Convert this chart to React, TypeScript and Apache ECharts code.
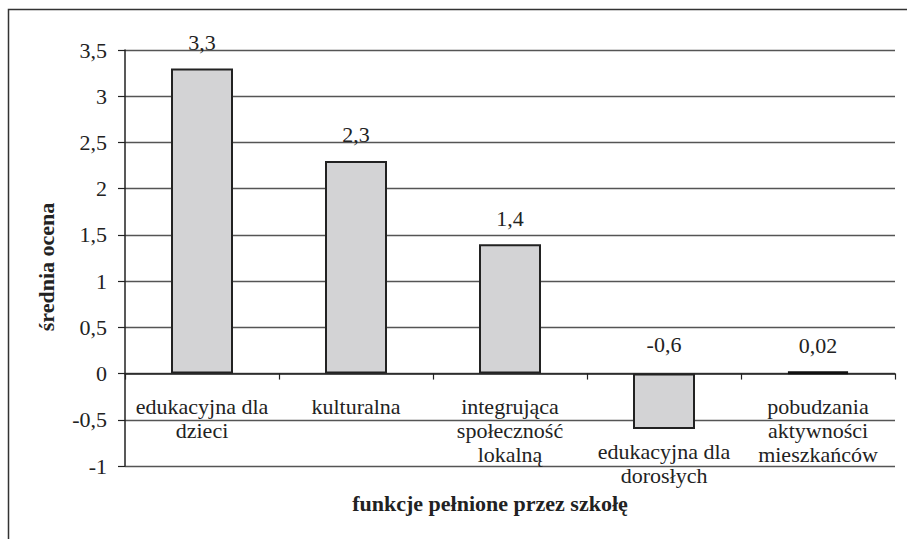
import React, { useEffect, useRef } from "react";
import * as echarts from "echarts";

const categories = [
  "edukacyjna dla\ndzieci",
  "kulturalna",
  "integrująca\nspołeczność\nlokalną",
  "edukacyjna dla\ndorosłych",
  "pobudzania\naktywności\nmieszkańców",
];
const values = [3.3, 2.3, 1.4, -0.6, 0.02];
const valueLabels = ["3,3", "2,3", "1,4", "-0,6", "0,02"];
const yAxisName = "średnia ocena";
const xAxisName = "funkcje pełnione przez szkołę";

const FONT = "'Liberation Serif', 'Times New Roman', serif";
const INK = "#222";

export default function App() {
  const ref = useRef<HTMLDivElement>(null);
  useEffect(() => {
    if (!ref.current) return;
    const chart = echarts.init(ref.current, null, { renderer: "svg" });
    chart.setOption({
      animation: false,
      backgroundColor: "#fff",
      textStyle: { fontFamily: FONT },
      grid: {
        left: 125,
        right: 12,
        top: 50,
        bottom: 73,
        containLabel: false,
        outerBoundsMode: "none",
      },
      graphic: [
        {
          type: "rect",
          shape: { x: 8.5, y: 9.5, width: 1000, height: 1000 },
          style: { fill: "none", stroke: "#333", lineWidth: 1.5 },
          silent: true,
        },
      ],
      xAxis: {
        type: "category",
        data: categories.map((c, i) =>
          i === 3 ? { value: c, textStyle: { padding: [45, 0, 0, 0] } } : c
        ),
        axisLine: { onZero: true, lineStyle: { color: INK, width: 1.5 } },
        axisTick: { show: true, length: 6, interval: 0, lineStyle: { color: INK, width: 1.2 } },
        axisLabel: {
          interval: 0,
          margin: -72,
          fontFamily: FONT,
          fontSize: 22,
          lineHeight: 24,
          color: INK,
        },
        name: xAxisName,
        nameLocation: "middle",
        nameGap: 26,
        nameTextStyle: {
          fontFamily: FONT,
          fontSize: 22,
          fontWeight: "bold",
          color: INK,
          padding: [0, 40, 0, 0],
        },
      },
      yAxis: {
        type: "value",
        min: -1,
        max: 3.5,
        interval: 0.5,
        axisLine: { show: true, lineStyle: { color: INK, width: 1.5 } },
        axisTick: { show: true, length: 7, lineStyle: { color: INK, width: 1.2 } },
        axisLabel: {
          margin: 18,
          fontFamily: FONT,
          fontSize: 22,
          color: INK,
          formatter: (v: number) => String(v).replace(".", ","),
        },
        splitLine: { show: true, lineStyle: { color: "#555", width: 1.3 } },
        name: yAxisName,
        nameLocation: "middle",
        nameGap: 68,
        nameTextStyle: {
          fontFamily: FONT,
          fontSize: 22,
          fontWeight: "bold",
          color: INK,
          padding: [0, 18, 0, 0],
        },
      },
      series: [
        {
          type: "bar",
          barWidth: 62,
          data: values.map((v, i) => ({
            value: v,
            itemStyle: Math.abs(v) < 0.1 ? { color: "#111", borderColor: "#111", borderWidth: 3 } : undefined,
            label: {
              show: true,
              position: "top",
              distance: v < 0 ? 18 : 15,
              formatter: () => valueLabels[i],
            },
          })),
          itemStyle: { color: "#d3d3d5", borderColor: INK, borderWidth: 2 },
          label: {
            fontFamily: FONT,
            fontSize: 22,
            color: INK,
          },
        },
      ],
    });
    return () => chart.dispose();
  }, []);
  return (
    <div
      ref={ref}
      style={{ position: "fixed", left: 0, top: 0, width: 907, height: 539 }}
    />
  );
}
